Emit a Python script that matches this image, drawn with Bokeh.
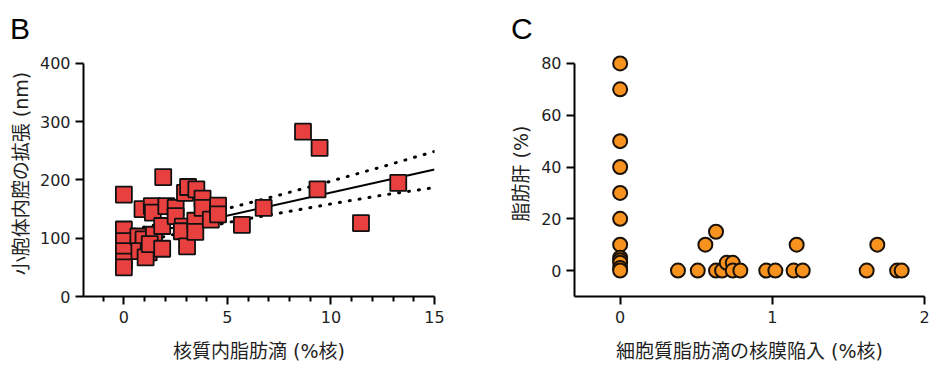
from bokeh.plotting import figure
from bokeh.layouts import row
from bokeh.models import FixedTicker, ColumnDataSource
from bokeh.embed import file_html
from bokeh.resources import INLINE

# ---------------- data: panel B ----------------
b_x = [0, 0, 0, 0, 0, 0,
       0.9, 1.35, 1.4, 0.7, 0.95, 0.75, 1.2, 1.05, 1.45, 1.25,
       1.85, 1.85, 1.9, 2.05, 2.5, 2.5, 2.85, 2.8, 3.05, 2.95, 3.1, 3.5,
       3.45, 3.45, 3.8, 3.8, 4.2, 4.55, 4.55,
       5.7, 6.75, 8.65, 9.45, 9.35, 11.45, 13.25]
b_y = [175, 115, 95, 78, 60, 50,
       150, 155, 144, 103, 98, 78, 76, 67, 106, 90,
       121, 82, 205, 155, 152, 138, 120, 112, 86, 178, 188, 184,
       130, 111, 168, 152, 132, 156, 141,
       123, 152, 283, 255, 184, 126, 195]
fit_x = [0, 15]
fit_y = [99, 218]
band_x = [0, 2.5, 5, 7.5, 10, 12.5, 15]
band_upper = [112, 130, 151, 174, 198, 223, 249]
band_lower = [86, 107.5, 127, 143, 159, 174, 187]
b_xticks = [0, 5, 10, 15]
b_xminor = [-1, 1, 2, 3, 4, 6, 7, 8, 9, 11, 12, 13, 14]
b_yticks = [0, 100, 200, 300, 400]

# ---------------- data: panel C ----------------
c_x = [0, 0, 0, 0, 0, 0, 0, 0, 0, 0, 0, 0,
       0.38, 0.51, 0.56, 0.63, 0.63, 0.67, 0.70, 0.74, 0.74, 0.79,
       0.96, 1.02, 1.14, 1.16, 1.2, 1.62, 1.69, 1.82, 1.85]
c_y = [80, 70, 50, 40, 30, 20, 10, 5, 4, 3, 1, 0,
       0, 0, 10, 15, 0, 0, 3, 3, 0, 0,
       0, 0, 0, 10, 0, 0, 10, 0, 0]
c_xticks = [0, 1, 2]
c_yticks = [0, 20, 40, 60, 80]

TICK_FONT = "'DejaVu Sans'"
LABEL_FONT = "'DejaVu Sans', 'Noto Sans CJK JP'"
TEXT_COLOR = "#1f1f1f"


def style(p, ylabel_standoff):
    p.outline_line_color = None
    p.xgrid.visible = False
    p.ygrid.visible = False
    for ax in (p.xaxis[0], p.yaxis[0]):
        ax.axis_line_color = "black"
        ax.axis_line_width = 2
        ax.major_tick_line_color = "black"
        ax.major_tick_line_width = 2
        ax.major_tick_out = 8
        ax.major_tick_in = 0
        ax.minor_tick_line_color = "black"
        ax.minor_tick_line_width = 2
        ax.minor_tick_out = 5
        ax.minor_tick_in = 0
        ax.major_label_text_font = TICK_FONT
        ax.major_label_text_font_size = "16px"
        ax.major_label_text_color = TEXT_COLOR
        ax.axis_label_text_font = LABEL_FONT
        ax.axis_label_text_font_size = "19px"
        ax.axis_label_text_font_style = "normal"
        ax.axis_label_text_color = TEXT_COLOR
    p.xaxis[0].major_label_standoff = 6
    p.yaxis[0].major_label_standoff = 5
    p.xaxis[0].axis_label_standoff = 14
    p.yaxis[0].axis_label_standoff = ylabel_standoff
    p.title.text_font = "Liberation Sans"
    p.title.text_font_size = "30px"
    p.title.text_font_style = "normal"
    p.title.text_color = "black"
    p.title.align = "left"
    p.title.standoff = 12


# ---------------- panel B ----------------
p1 = figure(frame_width=351, frame_height=246, x_range=(-1.95, 15), y_range=(0, 422.3),
            output_backend="svg", toolbar_location=None,
            min_border_left=83, min_border_right=25, min_border_top=50, min_border_bottom=72,
            title="B")
style(p1, 5)
p1.title.offset = -73.5
p1.xaxis.ticker = FixedTicker(ticks=b_xticks, minor_ticks=b_xminor)
p1.yaxis.ticker = FixedTicker(ticks=b_yticks, minor_ticks=[])
p1.yaxis.bounds = (0, 400)
p1.xaxis.axis_label = "核質内脂肪滴 (%核)"
p1.yaxis.axis_label = "小胞体内腔の拡張 (nm)"

p1.line(band_x, band_upper, line_color="black", line_width=3, line_dash="1 9", line_cap="round")
p1.line(band_x, band_lower, line_color="black", line_width=3, line_dash="1 9", line_cap="round")
p1.line(fit_x, fit_y, line_color="black", line_width=2)
src_b = ColumnDataSource(dict(x=b_x, y=b_y))
p1.scatter("x", "y", source=src_b, marker="square", size=16,
           fill_color="#e8403f", line_color="#111111", line_width=1.8)

# ---------------- panel C ----------------
p2 = figure(frame_width=350, frame_height=246, x_range=(-0.3, 2), y_range=(-10, 85),
            output_backend="svg", toolbar_location=None,
            min_border_left=115, min_border_right=10, min_border_top=50, min_border_bottom=72,
            title="C")
style(p2, 6)
p2.title.offset = -63.5
p2.xaxis.ticker = FixedTicker(ticks=c_xticks, minor_ticks=[])
p2.yaxis.ticker = FixedTicker(ticks=c_yticks, minor_ticks=[])
p2.yaxis.bounds = (-10, 80)
p2.xaxis.axis_label = "細胞質脂肪滴の核膜陥入 (%核)"
p2.yaxis.axis_label = "脂肪肝 (%)"
src_c = ColumnDataSource(dict(x=c_x, y=c_y))
p2.scatter("x", "y", source=src_c, marker="circle", size=14,
           fill_color="#f7921e", line_color="#1a1208", line_width=2)

layout = row(p1, p2)
open("out.html", "w").write(file_html(layout, INLINE))
